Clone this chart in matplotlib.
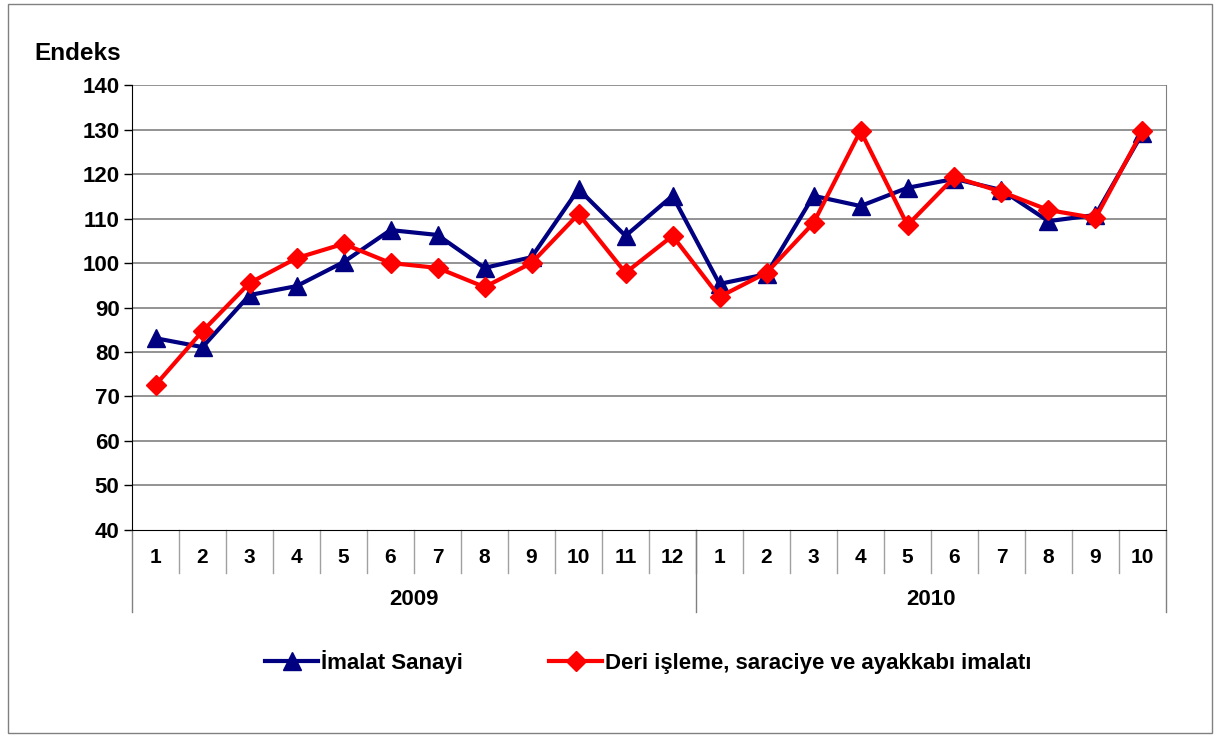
import matplotlib.pyplot as plt
from matplotlib.patches import Rectangle
from matplotlib.lines import Line2D
import matplotlib.transforms as mtransforms

plt.rcParams['font.family'] = ['Liberation Sans', 'DejaVu Sans']
plt.rcParams['font.weight'] = 'bold'

# data
months = ['1', '2', '3', '4', '5', '6', '7', '8', '9', '10', '11', '12',
          '1', '2', '3', '4', '5', '6', '7', '8', '9', '10']
years = ['2009', '2010']
year_lengths = [12, 10]
imalat = [83.1, 81.1, 92.8, 94.8, 100.2, 107.4, 106.3, 98.9, 101.3, 116.6, 106.1, 115.1,
          95.3, 97.5, 115.1, 112.8, 116.9, 118.9, 116.4, 109.4, 110.8, 129.2]
deri = [72.6, 84.7, 95.5, 101.1, 104.3, 100.0, 98.9, 94.6, 100.0, 111.0, 97.8, 106.1,
        92.4, 97.8, 109.0, 129.7, 108.5, 119.3, 116.0, 111.9, 110.1, 129.7]

fig = plt.figure(figsize=(12.18, 7.36), dpi=100)
ax = fig.add_axes([0.1084, 0.2799, 0.8489, 0.6046])

# outer frame of the chart
fig.patches.append(Rectangle((0.0066, 0.004), 0.9885, 0.9905, transform=fig.transFigure,
                             fill=False, edgecolor='#808080', linewidth=1))

x = list(range(len(months)))
ax.plot(x, imalat, color='#000080', linewidth=3, marker='^', markersize=13,
        label='İmalat Sanayi', zorder=3)
ax.plot(x, deri, color='#ff0000', linewidth=3, marker='D', markersize=10,
        label='Deri işleme, saraciye ve ayakkabı imalatı', zorder=4)

ax.set_xlim(-0.5, len(months) - 0.5)
ax.set_ylim(40, 140)
ax.set_yticks(range(40, 141, 10))
ax.tick_params(axis='y', labelsize=16, length=6, width=1, direction='out', pad=3)
ax.set_xticks([])
for g in range(50, 141, 10):
    ax.axhline(g, color='#808080', linewidth=1.2, zorder=1)

ax.spines['top'].set_visible(False)
ax.spines['right'].set_color('#808080')
ax.spines['left'].set_color('black')
ax.spines['bottom'].set_color('black')

ax.text(-0.0945, 1.07, 'Endeks', transform=ax.transAxes, fontsize=17.5,
        fontweight='bold', ha='left', va='center')

# two-level category axis
trans = mtransforms.blended_transform_factory(ax.transData, ax.transAxes)
for i, m in enumerate(months):
    ax.text(i, -0.062, m, transform=trans, ha='center', va='center', fontsize=15,
            fontweight='bold')
for i in range(1, len(months)):
    ax.add_line(Line2D([i - 0.5, i - 0.5], [0, -0.097], transform=trans,
                       color='#a0a0a0', linewidth=1, clip_on=False))
start = 0
edges = [-0.5]
for y, n in zip(years, year_lengths):
    ax.text(start + n / 2 - 0.5, -0.157, y, transform=trans, ha='center', va='center',
            fontsize=16, fontweight='bold')
    start += n
    edges.append(start - 0.5)
for e in edges:
    ax.add_line(Line2D([e, e], [0, -0.185], transform=trans,
                       color='#808080', linewidth=1, clip_on=False))

leg = fig.legend(loc='center', bbox_to_anchor=(0.532, 0.1005), ncol=2, frameon=False,
                 handlelength=2.4, handletextpad=0.1, columnspacing=3.9,
                 prop={'weight': 'bold', 'size': 16})

fig.savefig('out.png', dpi=100)
